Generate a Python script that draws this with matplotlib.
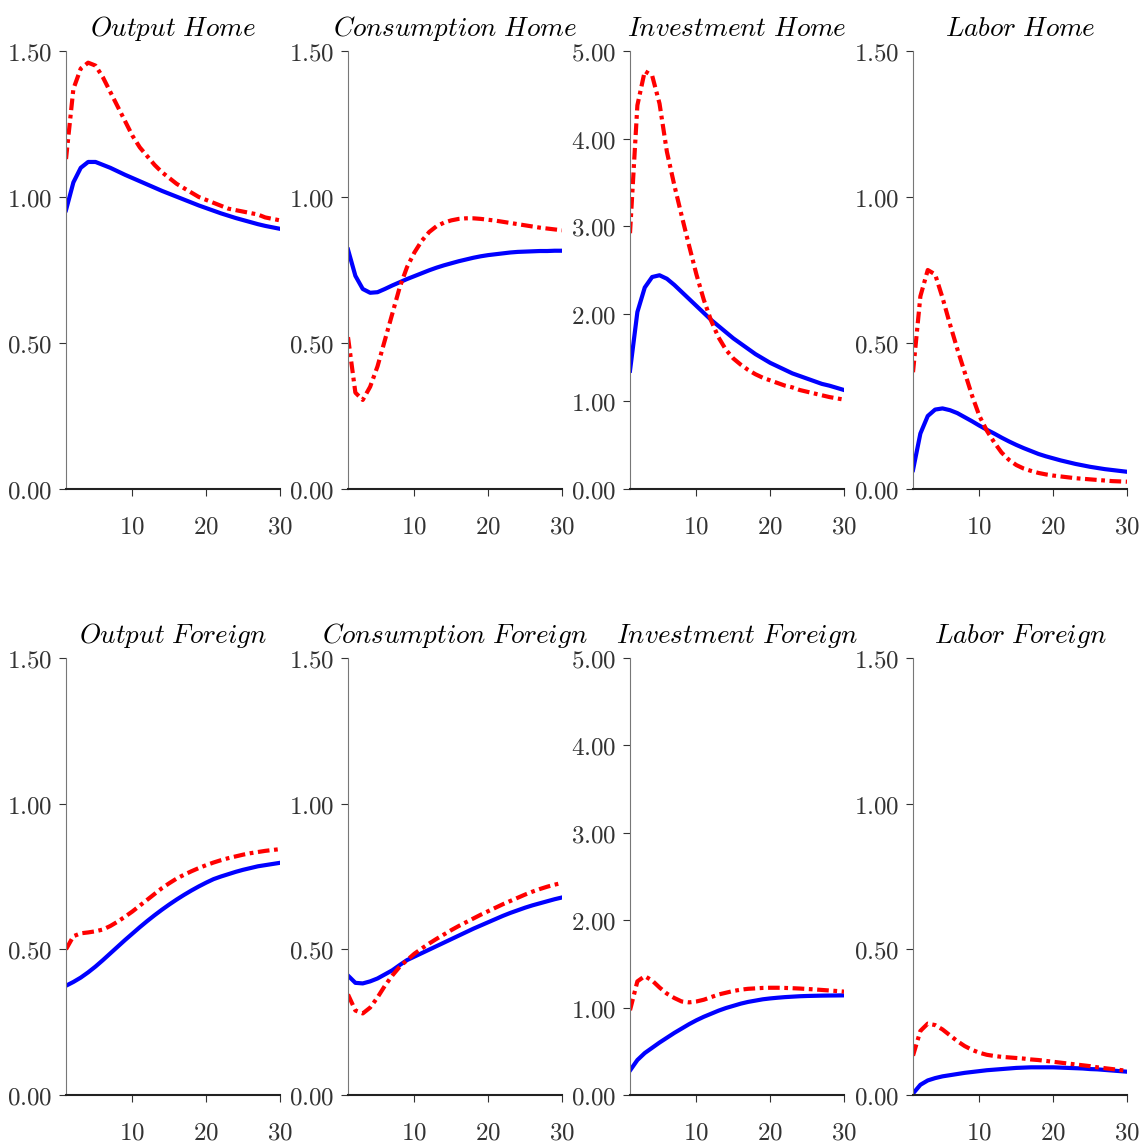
import matplotlib
matplotlib.use("Agg")
import matplotlib.pyplot as plt
import numpy as np
from matplotlib.ticker import FuncFormatter

plt.rcParams['mathtext.fontset'] = 'cm'

# horizon
t = np.arange(1, 31)

titles = ['Output\\ Home', 'Consumption\\ Home', 'Investment\\ Home', 'Labor\\ Home',
          'Output\\ Foreign', 'Consumption\\ Foreign', 'Investment\\ Foreign', 'Labor\\ Foreign']
ymax = [1.5, 1.5, 5.0, 1.5, 1.5, 1.5, 5.0, 1.5]

# blue solid series
y_home = [0.955, 1.05, 1.10, 1.12, 1.12, 1.11, 1.10, 1.088, 1.076, 1.065, 1.054, 1.043, 1.032, 1.021, 1.011,
          1.001, 0.991, 0.981, 0.971, 0.962, 0.953, 0.944, 0.936, 0.928, 0.921, 0.914, 0.907, 0.901, 0.896, 0.891]
c_home = [0.82, 0.73, 0.685, 0.672, 0.674, 0.685, 0.697, 0.708, 0.719, 0.729, 0.739, 0.749, 0.758, 0.766, 0.773,
          0.78, 0.786, 0.792, 0.797, 0.801, 0.804, 0.807, 0.81, 0.812, 0.813, 0.814, 0.815, 0.815, 0.816, 0.816]
i_home = [1.35, 2.02, 2.30, 2.42, 2.44, 2.40, 2.33, 2.25, 2.17, 2.09, 2.01, 1.93, 1.86, 1.79, 1.72,
          1.66, 1.60, 1.54, 1.49, 1.44, 1.40, 1.36, 1.32, 1.29, 1.26, 1.23, 1.20, 1.18, 1.155, 1.13]
l_home = [0.065, 0.19, 0.25, 0.272, 0.276, 0.27, 0.26, 0.246, 0.232, 0.217, 0.203, 0.19, 0.176, 0.163, 0.151,
          0.14, 0.13, 0.12, 0.112, 0.105, 0.098, 0.092, 0.086, 0.081, 0.076, 0.072, 0.068, 0.065, 0.062, 0.059]
y_for = [0.375, 0.388, 0.403, 0.421, 0.441, 0.463, 0.486, 0.509, 0.532, 0.554, 0.576, 0.597, 0.617, 0.636, 0.654,
         0.671, 0.687, 0.702, 0.716, 0.729, 0.741, 0.75, 0.758, 0.766, 0.773, 0.779, 0.785, 0.789, 0.793, 0.797]
c_for = [0.41, 0.385, 0.383, 0.39, 0.40, 0.414, 0.428, 0.446, 0.463, 0.475, 0.487, 0.499, 0.511, 0.523, 0.535,
         0.547, 0.559, 0.571, 0.582, 0.593, 0.604, 0.615, 0.625, 0.634, 0.643, 0.651, 0.658, 0.665, 0.672, 0.678]
i_for = [0.28, 0.40, 0.48, 0.54, 0.60, 0.655, 0.71, 0.76, 0.81, 0.855, 0.895, 0.93, 0.965, 0.995, 1.02,
         1.045, 1.065, 1.08, 1.095, 1.105, 1.113, 1.12, 1.125, 1.13, 1.133, 1.135, 1.137, 1.138, 1.139, 1.14]
l_for = [0.005, 0.035, 0.05, 0.058, 0.064, 0.068, 0.072, 0.076, 0.079, 0.082, 0.085, 0.087, 0.089, 0.091, 0.093,
         0.094, 0.095, 0.095, 0.095, 0.095, 0.094, 0.093, 0.092, 0.091, 0.089, 0.088, 0.086, 0.084, 0.082, 0.08]

# red dash-dot series
y_home2 = [1.13, 1.37, 1.44, 1.46, 1.45, 1.41, 1.36, 1.31, 1.26, 1.21, 1.17, 1.14, 1.11, 1.085, 1.065,
           1.045, 1.03, 1.015, 1.0, 0.99, 0.98, 0.97, 0.96, 0.955, 0.95, 0.945, 0.94, 0.93, 0.925, 0.92]
c_home2 = [0.52, 0.33, 0.305, 0.35, 0.42, 0.51, 0.60, 0.69, 0.76, 0.81, 0.85, 0.88, 0.90, 0.912, 0.92,
           0.925, 0.927, 0.927, 0.925, 0.922, 0.919, 0.915, 0.911, 0.907, 0.903, 0.899, 0.895, 0.892, 0.889, 0.886]
i_home2 = [2.92, 4.38, 4.77, 4.72, 4.40, 3.85, 3.47, 3.12, 2.78, 2.45, 2.16, 1.92, 1.73, 1.59, 1.49,
           1.42, 1.36, 1.31, 1.27, 1.24, 1.21, 1.18, 1.16, 1.13, 1.11, 1.09, 1.07, 1.05, 1.035, 1.02]
l_home2 = [0.40, 0.66, 0.75, 0.735, 0.655, 0.565, 0.48, 0.40, 0.32, 0.25, 0.20, 0.16, 0.125, 0.10, 0.082,
           0.07, 0.062, 0.055, 0.05, 0.046, 0.043, 0.04, 0.037, 0.035, 0.033, 0.031, 0.029, 0.027, 0.026, 0.025]
y_for2 = [0.50, 0.545, 0.555, 0.558, 0.562, 0.568, 0.58, 0.595, 0.612, 0.63, 0.65, 0.67, 0.69, 0.71, 0.727,
          0.743, 0.756, 0.768, 0.779, 0.789, 0.798, 0.806, 0.813, 0.819, 0.825, 0.83, 0.834, 0.838, 0.841, 0.844]
c_for2 = [0.345, 0.29, 0.28, 0.30, 0.335, 0.375, 0.41, 0.44, 0.463, 0.485, 0.503, 0.52, 0.536, 0.551, 0.566,
          0.58, 0.593, 0.606, 0.619, 0.631, 0.643, 0.655, 0.666, 0.677, 0.688, 0.698, 0.707, 0.715, 0.722, 0.728]
i_for2 = [0.97, 1.30, 1.36, 1.31, 1.23, 1.16, 1.11, 1.07, 1.06, 1.07, 1.09, 1.12, 1.15, 1.17, 1.19,
          1.205, 1.215, 1.22, 1.225, 1.227, 1.227, 1.225, 1.222, 1.218, 1.213, 1.208, 1.202, 1.196, 1.19, 1.183]
l_for2 = [0.135, 0.22, 0.245, 0.24, 0.225, 0.205, 0.185, 0.168, 0.155, 0.145, 0.138, 0.134, 0.131, 0.129, 0.127,
          0.125, 0.122, 0.12, 0.117, 0.114, 0.111, 0.108, 0.105, 0.102, 0.099, 0.095, 0.092, 0.089, 0.086, 0.083]

blue = [y_home, c_home, i_home, l_home, y_for, c_for, i_for, l_for]
red = [y_home2, c_home2, i_home2, l_home2, y_for2, c_for2, i_for2, l_for2]

fig = plt.figure(figsize=(11.48, 11.44), dpi=100)
lefts = [66, 348, 630, 913]
W, H = 1148, 1144

fmt = FuncFormatter(lambda v, p: r'$%.2f$' % v)
xfmt = FuncFormatter(lambda v, p: r'$%d$' % v)

for k in range(8):
    row, col = divmod(k, 4)
    top = 51 if row == 0 else 658
    bot = 489 if row == 0 else 1095
    ax = fig.add_axes([lefts[col] / W, 1 - bot / H, 214 / W, (bot - top) / H])
    ax.plot(t, blue[k], color='b', lw=3)
    ax.plot(t, red[k], color='r', lw=3, ls=(0, (2.8, 1.1, 0.9, 1.1)))
    ax.axhline(0, color='0.6', ls='--', lw=1.3)
    ax.set_xlim(1, 30)
    ax.set_ylim(0, ymax[k])
    if ymax[k] > 2:
        ax.set_yticks([0, 1, 2, 3, 4, 5])
    else:
        ax.set_yticks([0, 0.5, 1.0, 1.5])
    ax.set_xticks([10, 20, 30])
    ax.yaxis.set_major_formatter(fmt)
    ax.xaxis.set_major_formatter(xfmt)
    ax.tick_params(labelsize=18, direction='out', length=5, colors='#333333', pad=5)
    ax.tick_params(axis='x', pad=13)
    ax.spines['top'].set_visible(False)
    ax.spines['right'].set_visible(False)
    ax.spines['left'].set_color('#777777')
    ax.spines['bottom'].set_color('#222222')
    ax.spines['bottom'].set_linewidth(1.5)
    ax.set_title(r'$%s$' % titles[k], fontsize=19.5, pad=11)

fig.savefig('out.png', dpi=100)
